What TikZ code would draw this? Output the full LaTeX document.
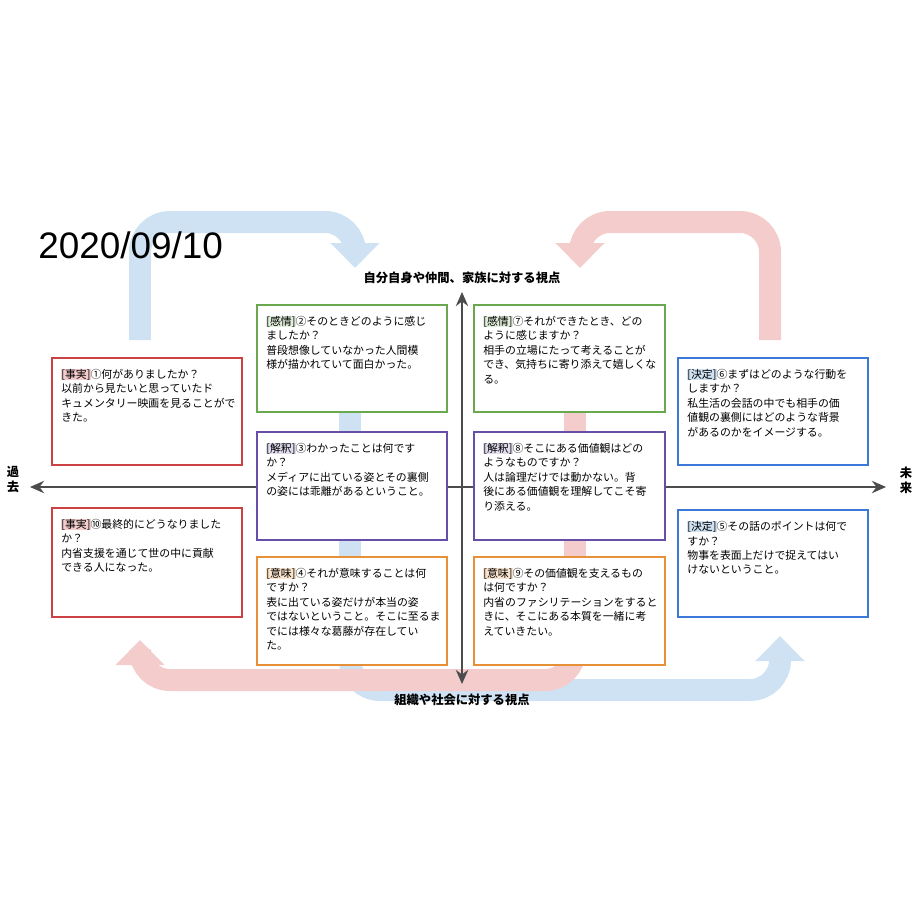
\documentclass[tikz,border=0pt]{standalone}
\usepackage{fontspec}
\setmainfont{Noto Sans CJK JP}
\newfontfamily\datefont{Liberation Sans}
\usetikzlibrary{arrows.meta}
\usetikzlibrary{positioning}
\definecolor{flowblue}{RGB}{207,226,243}
\definecolor{flowred}{RGB}{244,204,204}
\definecolor{boxred}{RGB}{204,65,65}
\definecolor{boxgreen}{RGB}{106,168,79}
\definecolor{boxpurple}{RGB}{103,78,167}
\definecolor{boxorange}{RGB}{230,145,56}
\definecolor{boxblue}{RGB}{60,120,216}
\newcommand{\tagmark}[2]{{\fboxsep=0pt\colorbox{#1}{#2}}}
\tikzset{
  card/.style={draw=#1, line width=1.2pt, fill=white},
  cardtext/.style={anchor=north west, align=left, inner sep=0pt,
    font=\fontsize{6.2}{8.2}\selectfont},
  flow/.style={line width=0.44cm, rounded corners=0.6cm,
    -{Triangle[length=0.5cm,width=0.95cm]}},
  axis/.style={line width=1.3pt, draw=black!70, {Stealth[length=8pt,width=7pt]}-{Stealth[length=8pt,width=7pt]}},
  axislabel/.style={font=\fontsize{7}{8.5}\selectfont\bfseries, inner sep=1pt}
}
\begin{document}
\begin{tikzpicture}[x=0.02cm, y=-0.02cm]
  \useasboundingbox (0,0) rectangle (920,920);

  % flows
  \draw[flow, flowblue] (140,340) -- (140,222) -- (355,222) -- (355,268);
  \draw[flow, flowred] (770,340) -- (770,222) -- (580,222) -- (580,268);
  \draw[line width=0.44cm, flowblue] (350,405) -- (350,640);
  \draw[line width=0.44cm, flowred] (575,405) -- (575,640);
  \draw[flow, flowblue] (350,640) -- (350,690) -- (780,690) -- (780,636);
  \draw[flow, flowred] (575,640) -- (575,680) -- (140,680) -- (140,640);

  % axes
  \coordinate (past) at (30,487);
  \coordinate (future) at (886,487);
  \coordinate (self) at (462,292);
  \coordinate (society) at (462,684);
  \draw[axis] (past) -- (future);
  \draw[axis] (self) -- (society);
  \node[axislabel, align=center] (pastlabel) at (13,480) {過\\去};
  \node[axislabel, align=center] (futurelabel) at (906,480) {未\\来};
  \node[axislabel] (selflabel) at (462,278) {自分自身や仲間、家族に対する視点};
  \node[axislabel] (societylabel) at (462,700) {組織や社会に対する視点};

  \node[anchor=west, inner sep=0pt, font=\datefont\fontsize{21}{24}\selectfont] (date) at (38,245) {2020/09/10};

  % left column
  \draw[card=boxred] (52,358) rectangle (242,465);
  \node[cardtext] (fact1) at (61,369) {\tagmark{flowred}{[事実]}①何がありましたか？\\以前から見たいと思っていたド\\キュメンタリー映画を見ることがで\\きた。};
  \draw[card=boxred] (52,508) rectangle (242,617);
  \node[cardtext] (fact10) at (61,519) {\tagmark{flowred}{[事実]}⑩最終的にどうなりました\\か？\\内省支援を通じて世の中に貢献\\できる人になった。};

  % center left
  \draw[card=boxgreen] (257,305) rectangle (447,412);
  \node[cardtext] (feel2) at (266,316) {\tagmark{boxgreen!20}{[感情]}②そのときどのように感じ\\ましたか？\\普段想像していなかった人間模\\様が描かれていて面白かった。};
  \draw[card=boxpurple] (257,432) rectangle (447,540);
  \node[cardtext] (interp3) at (266,443) {\tagmark{boxpurple!20}{[解釈]}③わかったことは何です\\か？\\メディアに出ている姿とその裏側\\の姿には乖離があるということ。};
  \draw[card=boxorange] (257,557) rectangle (447,665);
  \node[cardtext] (mean4) at (266,568) {\tagmark{boxorange!25}{[意味]}④それが意味することは何\\ですか？\\表に出ている姿だけが本当の姿\\ではないということ。そこに至るま\\でには様々な葛藤が存在してい\\た。};

  % center right
  \draw[card=boxgreen] (474,305) rectangle (665,412);
  \node[cardtext] (feel7) at (483,316) {\tagmark{boxgreen!20}{[感情]}⑦それができたとき、どの\\ように感じますか？\\相手の立場にたって考えることが\\でき、気持ちに寄り添えて嬉しくな\\る。};
  \draw[card=boxpurple] (474,432) rectangle (665,540);
  \node[cardtext] (interp8) at (483,443) {\tagmark{boxpurple!20}{[解釈]}⑧そこにある価値観はどの\\ようなものですか？\\人は論理だけでは動かない。背\\後にある価値観を理解してこそ寄\\り添える。};
  \draw[card=boxorange] (474,557) rectangle (665,665);
  \node[cardtext] (mean9) at (483,568) {\tagmark{boxorange!25}{[意味]}⑨その価値観を支えるもの\\は何ですか？\\内省のファシリテーションをすると\\きに、そこにある本質を一緒に考\\えていきたい。};

  % right column
  \draw[card=boxblue] (678,358) rectangle (868,465);
  \node[cardtext] (decide6) at (687,369) {\tagmark{flowblue}{[決定]}⑥まずはどのような行動を\\しますか？\\私生活の会話の中でも相手の価\\値観の裏側にはどのような背景\\があるのかをイメージする。};
  \draw[card=boxblue] (678,510) rectangle (868,617);
  \node[cardtext] (decide5) at (687,521) {\tagmark{flowblue}{[決定]}⑤その話のポイントは何で\\すか？\\物事を表面上だけで捉えてはい\\けないということ。};
\end{tikzpicture}
\end{document}
